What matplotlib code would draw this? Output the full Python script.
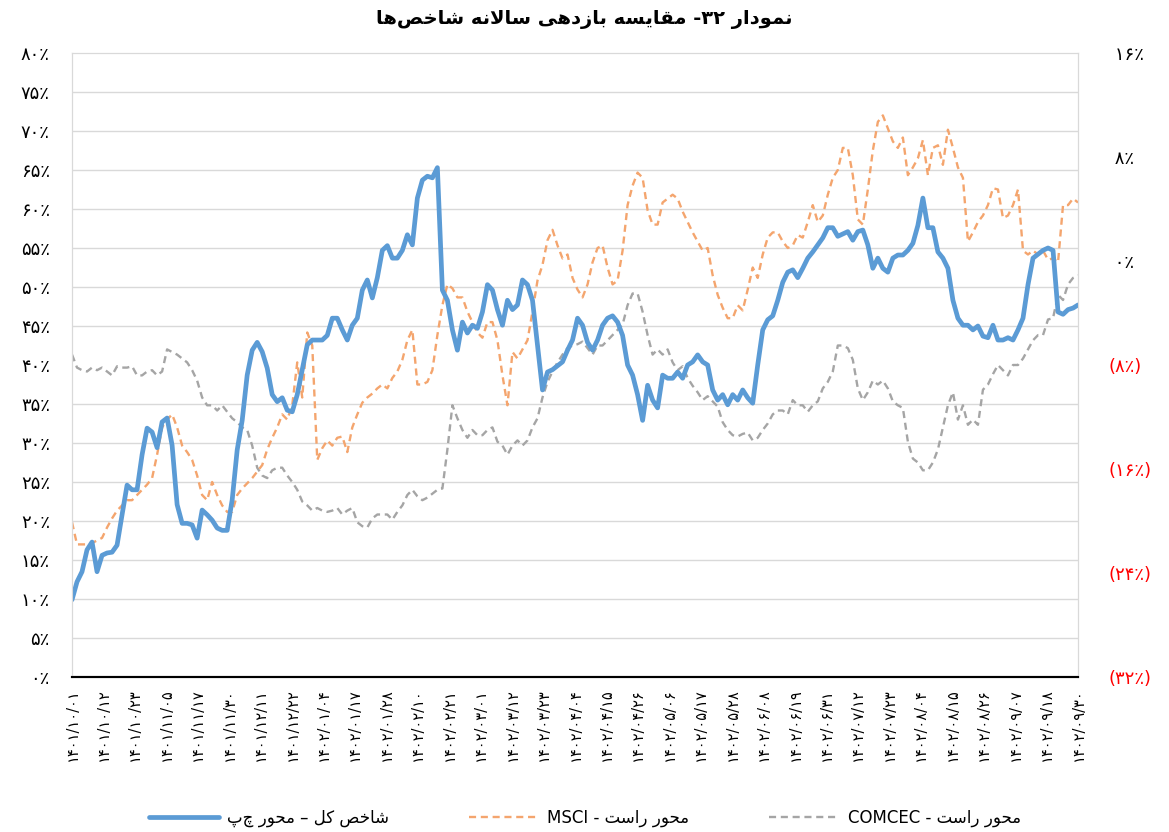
import re
import numpy as np
import matplotlib
matplotlib.use("Agg")
import matplotlib.pyplot as plt

plt.rcParams['font.family'] = ['DejaVu Sans']

# تاریخ‌ها (برچسب محور افقی)
dates = ["۱۴۰۱/۱۰/۰۱", "۱۴۰۱/۱۰/۱۲", "۱۴۰۱/۱۰/۲۳", "۱۴۰۱/۱۱/۰۵", "۱۴۰۱/۱۱/۱۷",
         "۱۴۰۱/۱۱/۳۰", "۱۴۰۱/۱۲/۱۱", "۱۴۰۱/۱۲/۲۲", "۱۴۰۲/۰۱/۰۴", "۱۴۰۲/۰۱/۱۷",
         "۱۴۰۲/۰۱/۲۸", "۱۴۰۲/۰۲/۱۰", "۱۴۰۲/۰۲/۲۱", "۱۴۰۲/۰۳/۰۱", "۱۴۰۲/۰۳/۱۲",
         "۱۴۰۲/۰۳/۲۳", "۱۴۰۲/۰۴/۰۴", "۱۴۰۲/۰۴/۱۵", "۱۴۰۲/۰۴/۲۶", "۱۴۰۲/۰۵/۰۶",
         "۱۴۰۲/۰۵/۱۷", "۱۴۰۲/۰۵/۲۸", "۱۴۰۲/۰۶/۰۸", "۱۴۰۲/۰۶/۱۹", "۱۴۰۲/۰۶/۳۱",
         "۱۴۰۲/۰۷/۱۲", "۱۴۰۲/۰۷/۲۳", "۱۴۰۲/۰۸/۰۴", "۱۴۰۲/۰۸/۱۵", "۱۴۰۲/۰۸/۲۶",
         "۱۴۰۲/۰۹/۰۷", "۱۴۰۲/۰۹/۱۸", "۱۴۰۲/۰۹/۳۰"]

# شاخص کل - محور چپ (%)
tedpix = [9.9, 12.2, 13.5, 16.3, 17.3, 13.5, 15.6, 15.9, 16.0, 16.9, 20.8, 24.6, 24.0, 24.0,
          28.5, 31.9, 31.4, 29.4, 32.7, 33.2, 29.7, 22.1, 19.7, 19.7, 19.5, 17.8, 21.4, 20.8,
          20.1, 19.1, 18.8, 18.8, 22.7, 29.1, 32.9, 38.7, 41.9, 42.9, 41.7, 39.6, 36.2, 35.3,
          35.8, 34.2, 34.0, 36.2, 39.4, 42.6, 43.2, 43.2, 43.2, 43.8, 46.0, 46.0, 44.5, 43.2,
          45.1, 46.0, 49.6, 50.9, 48.6, 51.2, 54.7, 55.3, 53.7, 53.7, 54.7, 56.7, 55.4, 61.4,
          63.7, 64.2, 64.0, 65.3, 49.6, 48.3, 44.5, 41.9, 45.5, 44.1, 45.1, 44.7, 46.8, 50.3,
          49.6, 47.1, 45.1, 48.3, 47.1, 47.7, 50.9, 50.3, 48.3, 42.6, 36.8, 39.1, 39.4, 39.9,
          40.4, 41.9, 43.2, 46.0, 45.1, 42.9, 41.9, 43.2, 45.1, 46.0, 46.3, 45.5, 43.8, 40.0,
          38.7, 36.2, 32.9, 37.4, 35.5, 34.5, 38.7, 38.3, 38.3, 39.1, 38.3, 40.0, 40.4, 41.3,
          40.4, 40.0, 36.8, 35.5, 36.2, 34.9, 36.2, 35.5, 36.8, 35.8, 35.1, 40.0, 44.5, 45.8,
          46.3, 48.3, 50.6, 51.9, 52.2, 51.2, 52.4, 53.7, 54.5, 55.4, 56.3, 57.6, 57.6, 56.5,
          56.8, 57.1, 56.0, 57.1, 57.3, 55.4, 52.4, 53.7, 52.4, 51.9, 53.7, 54.1, 54.1, 54.7,
          55.6, 57.9, 61.4, 57.6, 57.6, 54.5, 53.7, 52.4, 48.3, 46.0, 45.1, 45.1, 44.5, 45.0,
          43.7, 43.5, 45.1, 43.2, 43.2, 43.5, 43.2, 44.5, 46.0, 50.3, 53.7, 54.2, 54.7, 55.0,
          54.7, 46.8, 46.5, 47.1, 47.3, 47.7]

# MSCI - محور راست (%)
msci = [-20.1, -21.8, -21.8, -21.8, -21.7, -21.5, -21.3, -20.5, -19.8, -19.2, -18.8, -18.4,
        -18.4, -18.0, -17.6, -17.2, -16.7, -14.9, -12.8, -12.2, -11.8, -12.8, -14.2, -14.7,
        -15.3, -16.5, -18.0, -18.4, -17.0, -18.0, -18.8, -19.3, -19.3, -18.0, -17.5, -17.1,
        -16.7, -16.2, -15.7, -14.5, -13.6, -12.8, -11.8, -12.2, -11.1, -7.8, -10.5, -5.5,
        -6.5, -15.3, -14.4, -13.8, -14.2, -13.6, -13.5, -14.7, -12.8, -11.8, -10.9, -10.5,
        -10.2, -9.8, -9.5, -9.8, -9.0, -8.5, -7.6, -6.1, -5.3, -9.5, -9.5, -9.3, -8.4, -5.7,
        -3.4, -1.8, -2.1, -2.8, -2.8, -3.9, -4.7, -5.5, -5.9, -4.7, -4.7, -6.1, -8.8, -11.1,
        -7.0, -7.5, -6.8, -6.1, -3.9, -1.5, -0.3, 1.6, 2.4, 1.2, 0.2, 0.5, -1.3, -2.2, -2.8,
        -1.8, -0.1, 1.0, 1.2, -0.5, -1.8, -1.5, 0.8, 4.3, 5.8, 6.8, 6.4, 3.9, 2.8, 2.8, 4.5,
        4.8, 5.1, 4.8, 3.8, 3.0, 2.2, 1.5, 0.8, 1.0, -1.1, -2.6, -3.6, -4.4, -4.4, -3.4, -3.8,
        -2.2, -0.5, -1.3, 0.5, 1.8, 2.2, 2.2, 1.5, 1.0, 1.2, 2.0, 1.8, 3.0, 4.3, 3.0, 3.5,
        5.1, 6.4, 7.0, 8.7, 8.7, 6.6, 3.2, 2.8, 5.5, 8.5, 10.7, 11.2, 10.2, 9.2, 8.7, 9.5,
        6.6, 7.2, 7.9, 9.3, 6.6, 8.7, 8.9, 7.4, 10.1, 8.7, 7.2, 6.4, 1.5, 2.2, 3.0, 3.5, 4.3,
        5.6, 5.5, 3.3, 3.5, 4.3, 5.5, 0.8, 0.5, 0.8, 0.5, 0.8, 0.1, 0.2, -0.1, 4.3, 4.3,
        4.8, 4.5]

# COMCEC - محور راست (%)
comcec = [-7.2, -8.2, -8.4, -8.5, -8.2, -8.4, -8.2, -8.5, -8.8, -8.1, -8.2, -8.2, -8.1,
          -8.8, -8.8, -8.5, -8.4, -8.8, -8.5, -6.8, -7.0, -7.2, -7.5, -7.8, -8.4, -9.2,
          -10.5, -11.1, -11.1, -11.5, -11.1, -11.6, -12.1, -12.4, -12.8, -13.0, -14.2,
          -15.9, -16.5, -16.7, -16.1, -15.9, -15.9, -16.5, -17.0, -17.6, -18.5, -18.8,
          -19.2, -19.0, -19.2, -19.3, -19.2, -19.0, -19.5, -19.2, -19.0, -20.1, -20.4,
          -20.5, -19.8, -19.5, -19.5, -19.5, -19.9, -19.3, -18.8, -18.0, -17.6, -18.1,
          -18.4, -18.2, -17.9, -17.6, -17.5, -14.5, -11.1, -12.1, -13.0, -13.6, -13.0,
          -13.4, -13.4, -13.0, -12.8, -13.9, -14.2, -14.9, -14.2, -13.8, -14.2, -13.8,
          -12.8, -12.1, -10.5, -9.3, -8.5, -7.8, -7.2, -6.7, -6.5, -6.4, -6.2, -6.7, -7.2,
          -6.5, -6.5, -6.1, -5.7, -5.3, -4.9, -3.4, -2.5, -2.5, -3.9, -5.7, -7.2, -6.8,
          -7.2, -6.8, -7.8, -8.4, -8.1, -9.0, -9.6, -10.1, -10.7, -10.4, -10.8, -11.2,
          -12.4, -13.0, -13.4, -13.5, -13.3, -13.2, -13.8, -13.6, -13.0, -12.5, -11.8,
          -11.5, -11.5, -11.8, -10.7, -11.1, -11.1, -11.6, -11.1, -10.8, -9.8, -9.3, -8.5,
          -6.5, -6.5, -6.7, -7.6, -9.8, -10.7, -10.1, -9.2, -9.5, -9.2, -9.8, -10.8, -11.1,
          -11.3, -13.9, -15.2, -15.5, -16.1, -16.1, -15.5, -14.5, -12.8, -11.1, -10.1,
          -12.2, -11.1, -12.6, -12.2, -12.6, -9.9, -9.5, -8.7, -8.0, -8.4, -8.8, -8.0,
          -8.0, -7.5, -6.8, -6.1, -5.7, -5.7, -4.5, -4.4, -2.6, -3.0, -1.8, -1.3, -1.1]

left_ticks = list(range(0, 81, 5))
right_ticks = [-32, -24, -16, -8, 0, 8, 16]

# --- شکل‌دهی ساده حروف فارسی (بدون کتابخانه bidi) ---
FORMS = {
    'ا': '\uFE8D\uFE8E', 'د': '\uFEA9\uFEAA', 'ر': '\uFEAD\uFEAE',
    'ز': '\uFEAF\uFEB0', 'و': '\uFEED\uFEEE',
    'ب': '\uFE8F\uFE90\uFE91\uFE92', 'ت': '\uFE95\uFE96\uFE97\uFE98',
    'ح': '\uFEA1\uFEA2\uFEA3\uFEA4', 'خ': '\uFEA5\uFEA6\uFEA7\uFEA8',
    'س': '\uFEB1\uFEB2\uFEB3\uFEB4', 'ش': '\uFEB5\uFEB6\uFEB7\uFEB8',
    'ص': '\uFEB9\uFEBA\uFEBB\uFEBC', 'ق': '\uFED5\uFED6\uFED7\uFED8',
    'ک': '\uFB8E\uFB8F\uFB90\uFB91', 'ل': '\uFEDD\uFEDE\uFEDF\uFEE0',
    'م': '\uFEE1\uFEE2\uFEE3\uFEE4', 'ن': '\uFEE5\uFEE6\uFEE7\uFEE8',
    'ه': '\uFEE9\uFEEA\uFEEB\uFEEC', 'ی': '\uFBFC\uFBFD\uFBFE\uFBFF',
    'چ': '\uFB7A\uFB7B\uFB7C\uFB7D',
}


def fa(text):
    dual = lambda ch: ch in FORMS and len(FORMS[ch]) == 4
    out, i = [], 0
    while i < len(text):
        c = text[i]
        if c not in FORMS:
            if c != '\u200c':
                out.append(c)
            i += 1
            continue
        jp = i > 0 and dual(text[i - 1])
        if c == 'ل' and i + 1 < len(text) and text[i + 1] == 'ا':
            out.append('\uFEFC' if jp else '\uFEFB')
            i += 2
            continue
        jn = dual(c) and i + 1 < len(text) and text[i + 1] in FORMS
        f = FORMS[c]
        out.append(f[3] if jp and jn else f[1] if jp else f[2] if jn else f[0])
        i += 1
    s = ''.join(out)[::-1]
    return re.sub('[۰-۹]+', lambda m: m.group(0)[::-1], s)


def pdig(v):
    return str(v).translate(str.maketrans('0123456789', '۰۱۲۳۴۵۶۷۸۹'))


fig = plt.figure(figsize=(11.69, 8.32), dpi=100)
ax = fig.add_axes([0.0616, 0.1863, 0.8606, 0.7500])
ax2 = ax.twinx()

x = np.arange(len(tedpix))
ax2.plot(np.arange(len(comcec)), comcec, color='#A5A5A5', lw=1.7, dashes=(3, 2),
         label='COMCEC - ' + fa('محور راست'))
ax2.plot(np.arange(len(msci)), msci, color='#F4A56E', lw=1.7, dashes=(3, 2),
         label='MSCI - ' + fa('محور راست'))
ax.plot(x, tedpix, color='#5B9BD5', lw=3.4, solid_capstyle='round',
        solid_joinstyle='round', label=fa('شاخص کل – محور چپ'))

ax.set_zorder(ax2.get_zorder() + 1)
ax.patch.set_visible(False)

ax.set_xlim(0, len(tedpix) - 1)
ax.set_ylim(0, 80)
ax2.set_ylim(-32, 16)

ax.set_yticks(left_ticks)
ax.set_yticklabels([pdig(v) + '٪' for v in left_ticks], fontsize=13)
ax2.set_yticks(right_ticks)
ax2.set_yticklabels(['(' + pdig(-v) + '٪)' if v < 0 else ' ' + pdig(v) + '٪'
                     for v in right_ticks], fontsize=13, ha='left')
for lab, v in zip(ax2.get_yticklabels(), right_ticks):
    lab.set_color('#FF0000' if v < 0 else 'black')

# خطوط شبکه بر اساس محور چپ (هر ۵٪)
ax2.set_yticks(np.linspace(-32, 16, 17), minor=True)
ax2.grid(which='minor', axis='y', color='#D9D9D9', lw=1)
ax2.set_axisbelow(True)
ax.tick_params(axis='y', length=0, pad=16)
ax2.tick_params(axis='y', which='both', length=0, pad=22)

ax.set_xticks(np.linspace(0, len(tedpix) - 1, len(dates)))
ax.set_xticklabels(dates, rotation=90, fontsize=10.5)
ax.tick_params(axis='x', length=0, pad=8)

for a in (ax, ax2):
    for side in ('left', 'right', 'top'):
        a.spines[side].set_color('#D9D9D9')
    a.spines['bottom'].set_color('black')
    a.spines['bottom'].set_linewidth(1.5)

fig.text(0.5, 0.977, fa('نمودار ۳۲- مقایسه بازدهی سالانه شاخص‌ها'),
         ha='center', va='center', fontsize=14, fontweight='bold')

h1, l1 = ax.get_legend_handles_labels()
h2, l2 = ax2.get_legend_handles_labels()
fig.legend(h1 + h2[::-1], l1 + l2[::-1], loc='lower center', ncol=3,
           bbox_to_anchor=(0.5, -0.012), frameon=False, fontsize=12,
           handlelength=4.2, handletextpad=0.5, columnspacing=4.8)

fig.savefig('out.png', dpi=100)
